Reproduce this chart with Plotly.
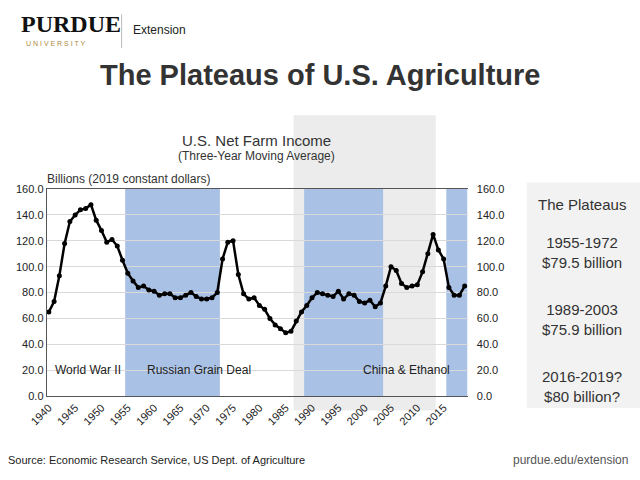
import plotly.graph_objects as go

years = list(range(1940, 2020))
income = [65, 73, 93, 118, 135, 140, 144, 145, 148, 136, 128, 119, 121, 116, 105,
          95, 89, 84, 85, 82, 81, 78, 79, 79, 76, 76, 78, 80, 77, 75, 75, 76, 80,
          106, 119, 120, 94, 79, 75, 76, 70, 67, 60, 55, 52, 49, 50, 58, 65, 70,
          76, 80, 79, 78, 77, 81, 75, 79, 78, 73, 72, 74, 69, 72, 85, 100, 97,
          87, 84, 85, 86, 96, 110, 125, 113, 106, 84, 78, 78, 85]
plateaus = [(1955, 1972), (1989, 2003), (2016, 2019)]
labels = [(1947.5, "World War II"), (1968.5, "Russian Grain Deal"), (2008, "China & Ethanol")]
ticks = list(range(1940, 2020, 5))

fig = go.Figure()
fig.add_shape(type="rect", xref="x", yref="paper", x0=1986.5, x1=2013.5, y0=0.145, y1=0.76,
              fillcolor="#ececec", line_width=0, layer="below")
for a, b in plateaus:
    fig.add_shape(type="rect", xref="x", yref="y", x0=a - 0.5, x1=b + 0.5, y0=0, y1=160,
                  fillcolor="#aac1e6", line_width=0, layer="below")
fig.add_trace(go.Scatter(x=years, y=income, mode="lines+markers",
                         line=dict(color="black", width=2.5),
                         marker=dict(color="black", size=5)))
fig.add_trace(go.Scatter(x=years, y=income, yaxis="y2", mode="lines",
                         line=dict(width=0), hoverinfo="skip", showlegend=False))
for x, t in labels:
    fig.add_annotation(x=x, y=20, text=t, showarrow=False, font=dict(size=12, color="#222"))

yt = [0, 20, 40, 60, 80, 100, 120, 140, 160]
fig.update_layout(
    width=640, height=480, showlegend=False, plot_bgcolor="rgba(0,0,0,0)", paper_bgcolor="white",
    margin=dict(l=0, r=0, t=0, b=0),
    font=dict(family="Liberation Sans, Arial", color="#222"),
    xaxis=dict(domain=[0.073, 0.731], range=[1939.6, 2019.6], tickvals=ticks, tickangle=-45,
               showgrid=False, showline=True, linecolor="#555", mirror=True,
               tickfont=dict(size=11), ticks="", automargin=False),
    yaxis=dict(domain=[0.175, 0.606], range=[0, 160], tickvals=yt,
               ticktext=[f"{v:.1f}" for v in yt], gridcolor="#d9d9d9",
               showline=True, linecolor="#555", tickfont=dict(size=11), zeroline=False,
               automargin=False),
    yaxis2=dict(overlaying="y", side="right", range=[0, 160], tickvals=yt,
                ticktext=[f"{v:.1f}" for v in yt], showgrid=False, tickfont=dict(size=11),
                anchor="x", automargin=False, ticklabelstandoff=8),
)
ann = [
    (0.40, 0.708, "U.S. Net Farm Income", 15),
    (0.40, 0.675, "(Three-Year Moving Average)", 12),
    (0.50, 0.843, "<b>The Plateaus of U.S. Agriculture</b>", 29),
    (0.2, 0.628, "Billions (2019 constant dollars)", 12),
    (0.91, 0.573, "The Plateaus", 15),
    (0.91, 0.473, "1955-1972<br>$79.5 billion", 15),
    (0.91, 0.335, "1989-2003<br>$75.9 billion", 15),
    (0.91, 0.195, "2016-2019?<br>$80 billion?", 15),
]
for x, y, t, s in ann:
    fig.add_annotation(x=x, y=y, xref="paper", yref="paper", text=t, showarrow=False,
                       xanchor="center", yanchor="middle",
                       font=dict(size=s, color="#333"))
fig.add_annotation(x=0.01, y=0.042, xref="paper", yref="paper", xanchor="left", yanchor="middle",
                   text="Source: Economic Research Service, US Dept. of Agriculture",
                   showarrow=False, font=dict(size=11))
fig.add_annotation(x=0.985, y=0.042, xref="paper", yref="paper", xanchor="right", yanchor="middle",
                   text="purdue.edu/extension", showarrow=False, font=dict(size=12, color="#555"))
fig.add_annotation(x=0.03, y=0.95, xref="paper", yref="paper", xanchor="left", yanchor="middle",
                   text="<b>PURDUE</b>", showarrow=False,
                   font=dict(size=24, family="Liberation Serif", color="#111"))
fig.add_annotation(x=0.038, y=0.91, xref="paper", yref="paper", xanchor="left", yanchor="middle",
                   text="U N I V E R S I T Y", showarrow=False,
                   font=dict(size=7, color="#b08a3e"))
fig.add_annotation(x=0.205, y=0.937, xref="paper", yref="paper", xanchor="left", yanchor="middle",
                   text="Extension", showarrow=False, font=dict(size=12, color="#222"))
fig.add_shape(type="line", xref="paper", yref="paper", x0=0.19, x1=0.19, y0=0.9, y1=0.97,
              line=dict(color="#bbb", width=1))
fig.add_shape(type="rect", xref="paper", yref="paper", x0=0.823, x1=1.0, y0=0.15, y1=0.62,
              fillcolor="#f2f2f2", line_width=0, layer="below")
fig.write_html("out.html", post_script="document.body.style.margin='0';",
               config={"displayModeBar": False})
